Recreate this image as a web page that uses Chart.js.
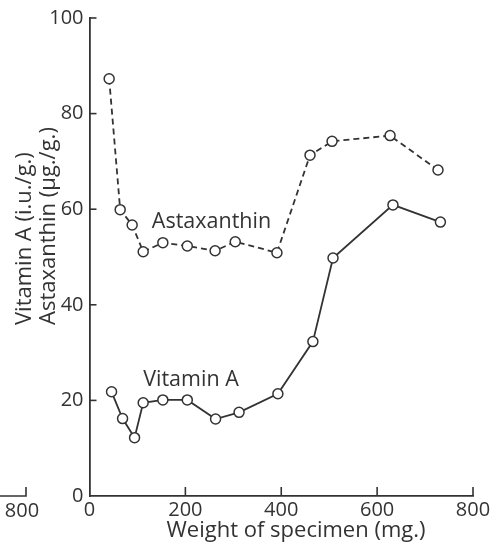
<!DOCTYPE html>
<html>
<head>
<meta charset="utf-8">
<script src="https://cdn.jsdelivr.net/npm/chart.js@4.4.0/dist/chart.umd.min.js"></script>
<style>
  html, body { margin: 0; padding: 0; background: #ffffff; }
  #wrap { width: 500px; height: 547px; position: relative; }
</style>
</head>
<body>
<div id="wrap"><canvas id="c" width="500" height="547"></canvas></div>
<script>
// ---- data ----
const astaxanthinWeights = [41, 64, 89, 112, 153, 204, 262, 304, 391, 460, 506, 627, 727];
const astaxanthinValues  = [87.3, 59.9, 56.7, 51.1, 53.0, 52.3, 51.3, 53.2, 50.9, 71.3, 74.2, 75.4, 68.2];
const vitaminAWeights    = [46, 69, 94, 112, 153, 204, 263, 312, 393, 466, 508, 633, 732];
const vitaminAValues     = [21.8, 16.2, 12.2, 19.5, 20.1, 20.1, 16.1, 17.5, 21.4, 32.3, 49.8, 60.9, 57.3];
const xTickValues = [0, 200, 400, 600, 800];
const yTickValues = [0, 20, 40, 60, 80, 100];
const seriesLabels = ['Astaxanthin', 'Vitamin A'];
const xTitle = 'Weight of specimen (mg.)';
const yTitleLines = ['Vitamin A (i.u./g.)', 'Astaxanthin (\u00b5g./g.)'];
const strayLabel = '800';

const INK = '#333333';
const FONT = '"Open Sans", Lato, sans-serif';

const toPts = (xs, ys) => xs.map((x, i) => ({ x: x, y: ys[i] }));

const decor = {
  id: 'decor',
  afterDraw(chart) {
    const ctx = chart.ctx;
    const xs = chart.scales.x, ys = chart.scales.y;
    const area = chart.chartArea;
    ctx.save();
    ctx.strokeStyle = INK;
    ctx.lineWidth = 1.6;
    // inward ticks
    yTickValues.forEach(v => {
      const p = ys.getPixelForValue(v);
      if (v === 0) return;
      ctx.beginPath(); ctx.moveTo(area.left, p); ctx.lineTo(area.left + 7, p); ctx.stroke();
    });
    xTickValues.forEach(v => {
      const p = xs.getPixelForValue(v);
      if (v === 0) return;
      ctx.beginPath(); ctx.moveTo(p, area.bottom); ctx.lineTo(p, area.bottom - 9); ctx.stroke();
    });
    // series labels inside the plot
    ctx.fillStyle = INK;
    ctx.font = '21.5px ' + FONT;
    ctx.textAlign = 'left';
    ctx.textBaseline = 'middle';
    ctx.fillText(seriesLabels[0], xs.getPixelForValue(130), ys.getPixelForValue(57.3));
    ctx.fillText(seriesLabels[1], xs.getPixelForValue(112), ys.getPixelForValue(24.2));
    // x title
    ctx.font = '22px ' + FONT;
    ctx.textAlign = 'center';
    ctx.fillText(xTitle, 296, 531);
    // y title (two lines, rotated, bottom-aligned)
    ctx.save();
    ctx.font = '22px ' + FONT;
    ctx.translate(25, 325);
    ctx.rotate(-Math.PI / 2);
    ctx.textAlign = 'left';
    ctx.fillText(yTitleLines[0], 0, 0);
    ctx.fillText(yTitleLines[1], 0, 24);
    ctx.restore();
    // fragment of neighbouring figure at bottom-left
    ctx.font = '20px ' + FONT;
    ctx.beginPath();
    ctx.moveTo(0, area.bottom); ctx.lineTo(26, area.bottom); ctx.lineTo(26, area.bottom - 9);
    ctx.stroke();
    ctx.textAlign = 'center';
    ctx.fillText(strayLabel, 22, 511);
    ctx.restore();
  }
};

new Chart(document.getElementById('c'), {
  type: 'line',
  data: {
    datasets: [
      {
        label: seriesLabels[0],
        data: toPts(astaxanthinWeights, astaxanthinValues),
        borderColor: INK,
        borderWidth: 1.8,
        borderDash: [6, 4],
        pointRadius: 5,
        pointBorderWidth: 1.5,
        pointBackgroundColor: '#ffffff',
        pointBorderColor: INK,
        tension: 0
      },
      {
        label: seriesLabels[1],
        data: toPts(vitaminAWeights, vitaminAValues),
        borderColor: INK,
        borderWidth: 1.8,
        pointRadius: 5,
        pointBorderWidth: 1.5,
        pointBackgroundColor: '#ffffff',
        pointBorderColor: INK,
        tension: 0
      }
    ]
  },
  options: {
    responsive: false,
    animation: false,
    devicePixelRatio: 1,
    layout: { padding: { left: 0, top: 13, right: 27, bottom: 0 } },
    plugins: { legend: { display: false }, tooltip: { enabled: false } },
    scales: {
      x: {
        type: 'linear',
        min: 0, max: 800,
        afterFit(s) { s.height = 51; },
        afterBuildTicks(s) { s.ticks = xTickValues.map(v => ({ value: v })); },
        grid: { display: false, drawTicks: false },
        border: { display: true, color: INK, width: 1.8 },
        ticks: { color: INK, font: { family: FONT, size: 20 }, padding: 2, maxRotation: 0, autoSkip: false }
      },
      y: {
        type: 'linear',
        min: 0, max: 100,
        afterFit(s) { s.width = 89.5; },
        afterBuildTicks(s) { s.ticks = yTickValues.map(v => ({ value: v })); },
        grid: { display: false, drawTicks: false },
        border: { display: true, color: INK, width: 1.8 },
        ticks: { color: INK, font: { family: FONT, size: 20 }, padding: 6, autoSkip: false }
      }
    }
  },
  plugins: [decor]
});
</script>
</body>
</html>
